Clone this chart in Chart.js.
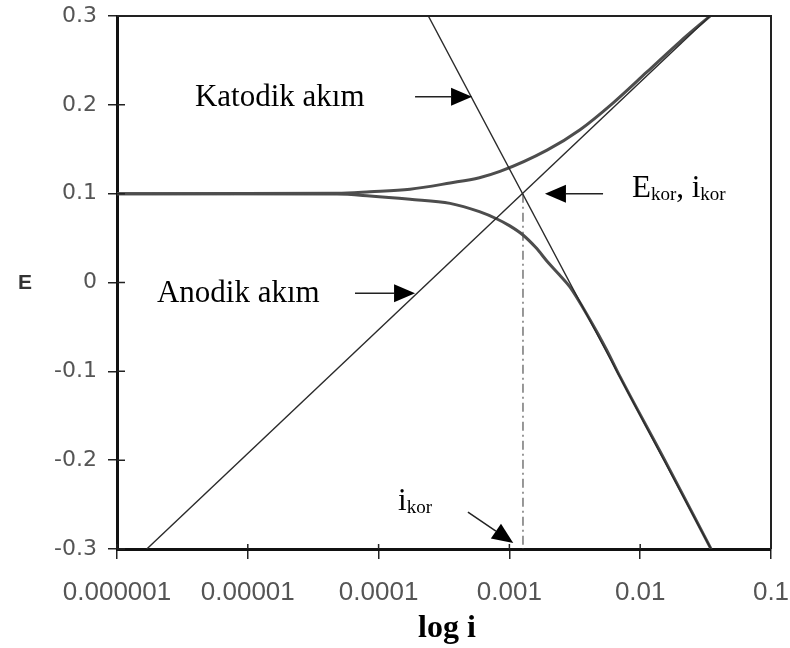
<!DOCTYPE html>
<html>
<head>
<meta charset="utf-8">
<script src="https://cdn.jsdelivr.net/npm/chart.js@4/dist/chart.umd.min.js"></script>
<style>
  html, body { margin: 0; padding: 0; background: #fff; }
  #wrap { width: 790px; height: 648px; }
</style>
</head>
<body>
<div id="wrap"><canvas id="tafel-chart" width="790" height="648"></canvas></div>
<script>
// tick values / labels //
//////////////////////////
var xTickValues = [0.000001, 0.00001, 0.0001, 0.001, 0.01, 0.1]
var xTickLabels = ["0.000001", "0.00001", "0.0001", "0.001", "0.01", "0.1"]
var yTickValues = [0.3, 0.2, 0.1, 0, -0.1, -0.2, -0.3]
var yTickLabels = ["0.3", "0.2", "0.1", "0", "-0.1", "-0.2", "-0.3"]

// tafel lines //
////////////////////////////////////////
var anodicTafelI = [0.00000169, 0.0342]
var anodicTafelE = [-0.3, 0.3]
var cathodicTafelI = [0.00024, 0.0348]
var cathodicTafelE = [0.3, -0.3]

// measured polarisation curves //
//////////////////////////////////
var upperCurveI = [0.000001, 0.000048, 0.000086, 0.000174, 0.000352, 0.00059, 0.000847, 0.00194, 0.00347, 0.00619, 0.01127, 0.0201, 0.0342]
var upperCurveE = [0.1, 0.1005, 0.1022, 0.105, 0.112, 0.118, 0.125, 0.149, 0.172, 0.202, 0.237, 0.271, 0.3]
var lowerCurveI = [0.000001, 0.000048, 0.000086, 0.000174, 0.000352, 0.00059, 0.000804, 0.001, 0.00127, 0.0016, 0.00194, 0.0024, 0.0029, 0.00413, 0.0055, 0.00701, 0.0154, 0.0348]
var lowerCurveE = [0.1, 0.0995, 0.0974, 0.0937, 0.0891, 0.0797, 0.0715, 0.064, 0.0535, 0.039, 0.024, 0.009, -0.005, -0.042, -0.075, -0.106, -0.2, -0.3]

// i_kor marker line
var ikorI = [0.00127, 0.00127]
var ikorE = [0.1, -0.3]

// annotations (data coordinates) //
////////////////////////////////////
var arrows = [
    {from: [0.00019, 0.209], to: [0.000518, 0.209]},      // katodik
    {from: [0.000066, -0.012], to: [0.00019, -0.012]},    // anodik
    {from: [0.0052, 0.1], to: [0.00187, 0.1]},            // E kor
    {from: [0.000482, -0.2584], to: [0.00107, -0.2933]}   // i kor
]

function toPoints(xs, ys) {
    var pts = []
    for (var i = 0; i < xs.length; i++) {
        pts.push({"x": xs[i], "y": ys[i]})
    }
    return pts
}

function drawArrow(ctx, x1, y1, x2, y2) {
    var ang = Math.atan2(y2 - y1, x2 - x1)
    var len = 21
    var half = 9
    var bx = x2 - len * Math.cos(ang)
    var by = y2 - len * Math.sin(ang)
    ctx.strokeStyle = "#222"
    ctx.lineWidth = 1.5
    ctx.beginPath()
    ctx.moveTo(x1, y1)
    ctx.lineTo(bx, by)
    ctx.stroke()
    ctx.fillStyle = "#000"
    ctx.beginPath()
    ctx.moveTo(x2, y2)
    ctx.lineTo(bx + half * Math.sin(ang), by - half * Math.cos(ang))
    ctx.lineTo(bx - half * Math.sin(ang), by + half * Math.cos(ang))
    ctx.closePath()
    ctx.fill()
}

// write "main" + subscript pieces left to right
function drawSubText(ctx, x, y, parts) {
    ctx.textAlign = "left"
    ctx.textBaseline = "alphabetic"
    ctx.fillStyle = "#000"
    for (var i = 0; i < parts.length; i++) {
        var p = parts[i]
        ctx.font = (p.sub ? "19px" : "31px") + " 'Liberation Serif', 'Times New Roman', serif"
        ctx.fillText(p.t, x, y + (p.sub ? 3 : 0))
        x += ctx.measureText(p.t).width
    }
}

var decorPlugin = {
    id: "decor",
    afterDraw: function(chart) {
        var ctx = chart.ctx
        var xs = chart.scales.x
        var ys = chart.scales.y
        var a = chart.chartArea
        ctx.save()

        // top and right frame
        ctx.strokeStyle = "#222"
        ctx.lineWidth = 2
        ctx.beginPath()
        ctx.moveTo(a.left, a.top)
        ctx.lineTo(a.right, a.top)
        ctx.lineTo(a.right, a.bottom)
        ctx.stroke()

        // inner halves of tick marks
        ctx.lineWidth = 1.5
        ctx.beginPath()
        xTickValues.forEach(function(v) {
            var px = xs.getPixelForValue(v)
            ctx.moveTo(px, a.bottom)
            ctx.lineTo(px, a.bottom - 5)
        })
        yTickValues.forEach(function(v) {
            var py = ys.getPixelForValue(v)
            ctx.moveTo(a.left, py)
            ctx.lineTo(a.left + 8, py)
        })
        ctx.stroke()

        // arrows
        arrows.forEach(function(ar) {
            drawArrow(ctx,
                xs.getPixelForValue(ar.from[0]), ys.getPixelForValue(ar.from[1]),
                xs.getPixelForValue(ar.to[0]), ys.getPixelForValue(ar.to[1]))
        })

        // labels
        drawSubText(ctx, xs.getPixelForValue(0.00000394), ys.getPixelForValue(0.1987), [{t: "Katodik akım"}])
        drawSubText(ctx, xs.getPixelForValue(0.00000202), ys.getPixelForValue(-0.0216), [{t: "Anodik akım"}])
        drawSubText(ctx, xs.getPixelForValue(0.00865), ys.getPixelForValue(0.0962),
            [{t: "E"}, {t: "kor", sub: true}, {t: ", i"}, {t: "kor", sub: true}])
        drawSubText(ctx, xs.getPixelForValue(0.000141), ys.getPixelForValue(-0.2561),
            [{t: "i"}, {t: "kor", sub: true}])

        // axis titles
        ctx.fillStyle = "#333"
        ctx.font = "bold 21px 'Liberation Sans', Arial, sans-serif"
        ctx.textAlign = "center"
        ctx.textBaseline = "middle"
        ctx.fillText("E", 25, ys.getPixelForValue(0) + 1)

        ctx.fillStyle = "#000"
        ctx.font = "bold 32px 'Liberation Serif', 'Times New Roman', serif"
        ctx.textBaseline = "alphabetic"
        ctx.fillText("log i", (a.left + a.right) / 2 + 3, 637)

        ctx.restore()
    }
}

var tafelConfig = {
    type: "scatter",
    data: {
        datasets: [
            {
                label: "Anodik Tafel",
                data: toPoints(anodicTafelI, anodicTafelE),
                showLine: true,
                borderColor: "#2a2a2a",
                borderWidth: 1.4,
                pointRadius: 0
            },
            {
                label: "Katodik Tafel",
                data: toPoints(cathodicTafelI, cathodicTafelE),
                showLine: true,
                borderColor: "#2a2a2a",
                borderWidth: 1.4,
                pointRadius: 0
            },
            {
                label: "Anodik egri",
                data: toPoints(upperCurveI, upperCurveE),
                showLine: true,
                borderColor: "#4d4d4d",
                borderWidth: 3,
                cubicInterpolationMode: "monotone",
                pointRadius: 0
            },
            {
                label: "Katodik egri",
                data: toPoints(lowerCurveI, lowerCurveE),
                showLine: true,
                borderColor: "#4d4d4d",
                borderWidth: 3,
                cubicInterpolationMode: "monotone",
                pointRadius: 0
            },
            {
                label: "ikor",
                data: toPoints(ikorI, ikorE),
                showLine: true,
                borderColor: "#777",
                borderWidth: 1.5,
                borderDash: [9, 4, 2, 4],
                pointRadius: 0
            }
        ]
    },
    options: {
        responsive: false,
        animation: false,
        events: [],
        layout: {
            padding: {left: 0, right: 19, top: 16, bottom: 0}
        },
        plugins: {
            legend: {display: false},
            tooltip: {enabled: false}
        },
        scales: {
            x: {
                type: "logarithmic",
                min: 0.000001,
                max: 0.1,
                afterBuildTicks: function(scale) {
                    scale.ticks = xTickValues.map(function(v) { return {value: v} })
                },
                afterFit: function(scale) {
                    scale.height = 99
                    scale.paddingLeft = 0
                    scale.paddingRight = 0
                },
                grid: {
                    drawOnChartArea: false,
                    color: "#222",
                    lineWidth: 1.5,
                    tickLength: 10
                },
                border: {color: "#111", width: 3},
                ticks: {
                    autoSkip: false,
                    maxRotation: 0,
                    padding: 18,
                    color: "#555",
                    font: {family: "'Liberation Sans', Arial, sans-serif", size: 26},
                    callback: function(v) {
                        var k = xTickValues.indexOf(v)
                        return k >= 0 ? xTickLabels[k] : ""
                    }
                }
            },
            y: {
                type: "linear",
                min: -0.3,
                max: 0.3,
                afterBuildTicks: function(scale) {
                    scale.ticks = yTickValues.map(function(v) { return {value: v} })
                },
                afterFit: function(scale) {
                    scale.width = 117
                    scale.paddingTop = 0
                    scale.paddingBottom = 0
                },
                grid: {
                    drawOnChartArea: false,
                    color: "#222",
                    lineWidth: 1.5,
                    tickLength: 9
                },
                border: {color: "#111", width: 3},
                ticks: {
                    padding: 11,
                    color: "#555",
                    font: {family: "'DejaVu Sans', sans-serif", size: 22},
                    callback: function(v) {
                        for (var k = 0; k < yTickValues.length; k++) {
                            if (Math.abs(yTickValues[k] - v) < 1e-9) return yTickLabels[k]
                        }
                        return ""
                    }
                }
            }
        }
    },
    plugins: [decorPlugin]
}

var chart = new Chart(
    document.getElementById("tafel-chart"),
    tafelConfig
)
</script>
</body>
</html>
